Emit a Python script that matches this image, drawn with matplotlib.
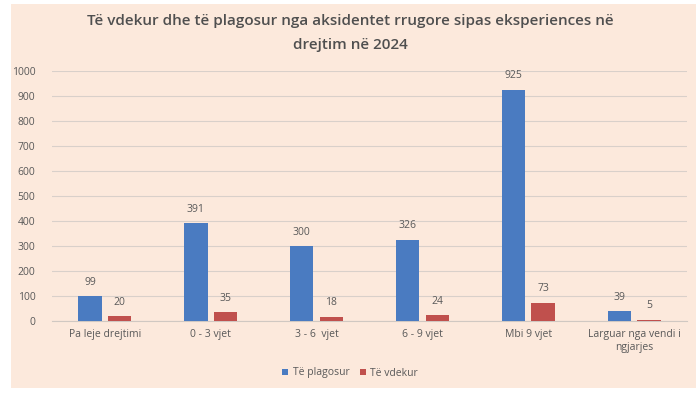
import numpy as np
import matplotlib.pyplot as plt
from matplotlib.patches import Rectangle

# Datos
categorias = ['Pa leje drejtimi', '0 - 3 vjet', '3 - 6  vjet', '6 - 9 vjet', 'Mbi 9 vjet',
              'Larguar nga vendi i\nngjarjes']
te_plagosur = [99, 391, 300, 326, 925, 39]
te_vdekur = [20, 35, 18, 24, 73, 5]
yticks = [0, 100, 200, 300, 400, 500, 600, 700, 800, 900, 1000]

plt.rcParams['font.family'] = ['Open Sans', 'DejaVu Sans']
gris = '#595959'
azul = '#4A7BC1'
rojo = '#C0504D'
fondo = '#FCE9DC'

fig = plt.figure(figsize=(7, 3.94), dpi=100)
fig.patch.set_facecolor('white')
fig.patches.append(Rectangle((11 / 700, 6 / 394), 685 / 700, 384 / 394,
                             transform=fig.transFigure, facecolor=fondo,
                             edgecolor='none', zorder=-5))

ax = fig.add_axes([52 / 700, 1 - 321 / 394, 635 / 700, 250 / 394])
ax.set_facecolor('none')

x = np.arange(len(categorias))
ancho = 0.22
b1 = ax.bar(x - 0.14, te_plagosur, ancho, color=azul, label='Të plagosur', zorder=3)
b2 = ax.bar(x + 0.14, te_vdekur, ancho, color=rojo, label='Të vdekur', zorder=3)

for barras in (b1, b2):
    for b in barras:
        ax.annotate(str(int(b.get_height())), (b.get_x() + b.get_width() / 2, b.get_height()),
                    xytext=(0, 6), textcoords='offset points', ha='center', va='bottom',
                    fontsize=7.5, color=gris)

ax.set_xlim(-0.5, len(categorias) - 0.5)
ax.set_ylim(0, 1000)
ax.set_yticks(yticks)
ax.set_xticks(x)
ax.set_xticklabels(categorias, fontsize=7.5, color=gris)
ax.tick_params(axis='y', labelsize=7.5, labelcolor=gris, length=0, pad=12)
ax.tick_params(axis='x', length=0, pad=6)
ax.grid(axis='y', color='#D9D0CA', linewidth=0.8, zorder=0)
for lado in ['top', 'right', 'left']:
    ax.spines[lado].set_visible(False)
ax.spines['bottom'].set_color('#D0C8C2')

fig.text(0.5, 1 - 21 / 394, 'Të vdekur dhe të plagosur nga aksidentet rrugore sipas eksperiences në',
         ha='center', va='center', fontsize=11, color='#4F4F4F', fontweight='semibold')
fig.text(0.5, 1 - 45 / 394, 'drejtim në 2024',
         ha='center', va='center', fontsize=11, color='#4F4F4F', fontweight='semibold')

fig.legend(loc='center', bbox_to_anchor=(0.5, 1 - 373 / 394), ncol=2, frameon=False,
           fontsize=7.5, labelcolor=gris, handlelength=0.6, handleheight=0.6,
           handletextpad=0.4, columnspacing=1.0)

plt.savefig('out.png', dpi=100, facecolor=fig.get_facecolor())
